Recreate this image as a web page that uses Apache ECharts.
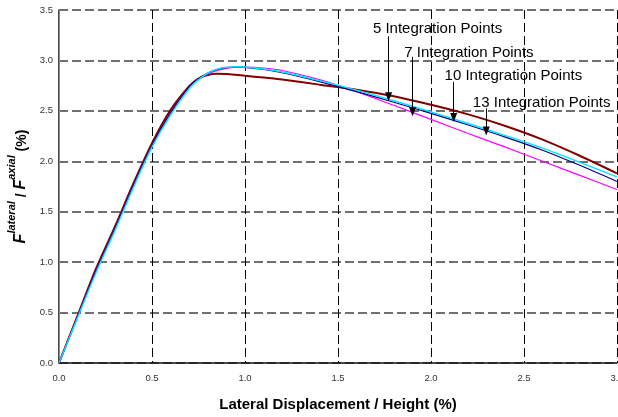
<!DOCTYPE html>
<html>
<head>
<meta charset="utf-8">
<script src="https://cdn.jsdelivr.net/npm/echarts@6/dist/echarts.min.js"></script>
<style>
  html, body { margin: 0; padding: 0; background: #fff; }
  #chart { width: 618px; height: 417px; }
</style>
</head>
<body>
<div id="chart"></div>
<script>
// displacement / height (%)
var xVals = [0, 0.1, 0.2, 0.3, 0.4, 0.5, 0.6, 0.7, 0.75, 0.8, 0.85, 0.9, 0.95, 1.0,
  1.1, 1.2, 1.4, 1.6, 1.8, 2.0, 2.2, 2.4, 2.6, 2.8, 3.0];

// F lateral / F axial (%) for each number of integration points
var ip5 = [0, 0.47, 0.94, 1.35, 1.78, 2.18, 2.51, 2.745, 2.82, 2.856, 2.868, 2.866, 2.858, 2.848,
  2.83, 2.81, 2.76, 2.71, 2.645, 2.56, 2.465, 2.35, 2.215, 2.055, 1.88];
var ip7 = [0, 0.46, 0.92, 1.33, 1.76, 2.16, 2.48, 2.74, 2.82, 2.875, 2.91, 2.928, 2.935, 2.932,
  2.91, 2.878, 2.79, 2.69, 2.585, 2.475, 2.36, 2.24, 2.11, 1.96, 1.80];
var ip10 = [0, 0.45, 0.9, 1.31, 1.74, 2.14, 2.46, 2.72, 2.81, 2.875, 2.913, 2.932, 2.938, 2.935,
  2.915, 2.885, 2.80, 2.705, 2.60, 2.49, 2.375, 2.255, 2.13, 1.99, 1.845];
var ip13 = [0, 0.46, 0.92, 1.33, 1.76, 2.16, 2.48, 2.74, 2.81, 2.865, 2.90, 2.922, 2.933, 2.935,
  2.925, 2.90, 2.81, 2.69, 2.555, 2.415, 2.275, 2.14, 2.0, 1.86, 1.72];

var xTicks = [0, 0.5, 1.0, 1.5, 2.0, 2.5, 3.0];
var yTicks = [0, 0.5, 1.0, 1.5, 2.0, 2.5, 3.0, 3.5];

// annotations (data units)
var annoText = ['5 Integration Points', '7 Integration Points', '10 Integration Points', '13 Integration Points'];
var annoTextX = [2.035, 2.204, 2.443, 2.595];
var annoTextY = [3.317, 3.075, 2.844, 2.58];
var arrowX = [1.772, 1.901, 2.122, 2.297];
var arrowTop = [3.24, 3.036, 2.788, 2.524];
var arrowTip = [2.64, 2.49, 2.435, 2.30];

function pairs(ys) {
  return xVals.map(function (x, i) { return [x, ys[i]]; });
}

var chart = echarts.init(document.getElementById('chart'));

var arrows = arrowX.map(function (x, i) {
  return [{ coord: [x, arrowTop[i]] }, { coord: [x, arrowTip[i]] }];
});
var labels = annoText.map(function (t, i) {
  return { name: t, coord: [annoTextX[i], annoTextY[i]] };
});

var option = {
  animation: false,
  textStyle: { fontFamily: 'Liberation Sans, Arial, sans-serif' },
  grid: { left: 59, right: 1, top: 10, bottom: 54, containLabel: false, outerBoundsMode: 'none' },
  xAxis: {
    type: 'value',
    min: 0, max: 3.0, interval: 0.5,
    name: 'Lateral Displacement / Height (%)',
    nameLocation: 'middle',
    nameGap: 34,
    nameTextStyle: { fontSize: 15, fontWeight: 'bold', color: '#000' },
    axisLine: { show: true, onZero: false, lineStyle: { color: '#111', width: 1.5 } },
    axisTick: { show: false },
    axisLabel: {
      color: '#333', fontSize: 9.5, margin: 10,
      formatter: function (v) { return v.toFixed(1); }
    },
    splitLine: { show: true, lineStyle: { color: '#000', width: 1, type: [9, 4] } }
  },
  yAxis: [{
    type: 'value',
    min: 0, max: 3.5, interval: 0.5,
    name: '{F|F}{sup|lateral}{t| / }{F|F}{sup|axial}{t| (%)}',
    nameLocation: 'middle',
    nameRotate: 90,
    nameGap: 26,
    nameTextStyle: {
      color: '#000',
      rich: {
        F: { fontSize: 16, fontWeight: 'bold', fontStyle: 'italic', lineHeight: 22, verticalAlign: 'bottom' },
        sup: { fontSize: 11, fontWeight: 'bold', fontStyle: 'italic', lineHeight: 12, verticalAlign: 'top' },
        t: { fontSize: 14, fontWeight: 'bold', lineHeight: 22, verticalAlign: 'bottom' }
      }
    },
    axisLine: { show: true, onZero: false, lineStyle: { color: '#111', width: 1.5 } },
    axisTick: { show: false },
    axisLabel: {
      color: '#333', fontSize: 9.5, margin: 6,
      formatter: function (v) { return v.toFixed(1); }
    },
    splitLine: { show: true, lineStyle: { color: '#707070', width: 2, type: [9, 4] } }
  }, {
    type: 'value',
    position: 'right',
    min: 0, max: 3.5,
    axisLine: { show: true, lineStyle: { color: '#888', width: 1 } },
    axisTick: { show: false },
    axisLabel: { show: false },
    splitLine: { show: false }
  }],
  series: [
    {
      name: '5 Integration Points', type: 'line', data: pairs(ip5),
      smooth: 0.3, showSymbol: false,
      lineStyle: { color: '#800000', width: 2 },
      markLine: {
        silent: true,
        animation: false,
        symbol: ['none', 'triangle'],
        symbolSize: [7, 9],
        label: { show: false },
        lineStyle: { color: '#000', width: 1, type: 'solid' },
        data: arrows
      },
      markPoint: {
        silent: true,
        symbol: 'circle',
        symbolSize: 1,
        itemStyle: { color: 'transparent' },
        label: { show: true, position: 'inside', formatter: '{b}', color: '#000', fontSize: 15 },
        data: labels
      }
    },
    {
      name: '13 Integration Points', type: 'line', data: pairs(ip13),
      smooth: 0.3, showSymbol: false,
      lineStyle: { color: '#ff00ff', width: 1.2 }
    },
    {
      name: '7 Integration Points', type: 'line', data: pairs(ip7),
      smooth: 0.3, showSymbol: false,
      lineStyle: { color: '#000080', width: 1.2 }
    },
    {
      name: '10 Integration Points', type: 'line', data: pairs(ip10),
      smooth: 0.3, showSymbol: false,
      lineStyle: { color: '#00e5ff', width: 1.4 }
    }
  ]
};

chart.setOption(option);
</script>
</body>
</html>
